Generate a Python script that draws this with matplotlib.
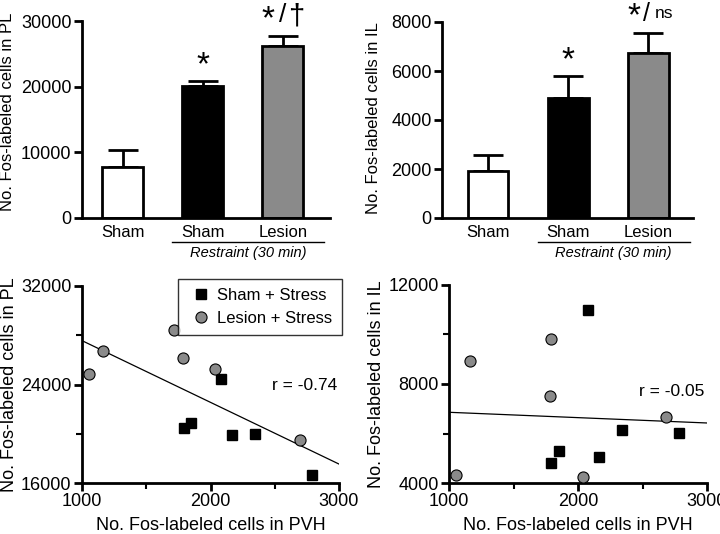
import numpy as np
import matplotlib
matplotlib.use("Agg")
import matplotlib.pyplot as plt
from matplotlib.ticker import MultipleLocator

plt.rcParams['font.family'] = ['Liberation Sans', 'DejaVu Sans']

groups = ["Sham", "Sham", "Lesion"]
bar_colors = ["white", "black", "#8a8a8a"]

pl_mean = [7700, 20100, 26150]
pl_sem = [2650, 760, 1550]
il_mean = [1920, 4900, 6750]
il_sem = [650, 900, 800]

# scatter data (PVH vs PL / IL)
sham_pvh = [2082, 1794, 1848, 2167, 2346, 2790]
sham_pl = [24450, 20470, 20870, 19900, 19980, 16650]
lesion_pvh = [1716, 1163, 1054, 1786, 2035, 2696]
lesion_pl = [28430, 26720, 24850, 26150, 25260, 19490]

sham_pvh_il = [2078, 1791, 1853, 2163, 2341, 2783]
sham_il = [10990, 4810, 5290, 5050, 6140, 6020]
lesion_pvh_il = [1163, 1054, 1791, 1783, 2039, 2682]
lesion_il = [8930, 4320, 9820, 7515, 4240, 6670]

W, H = 720, 534
fig = plt.figure(figsize=(W / 100, H / 100), dpi=100)


def px_axes(x0, x1, ytop, ybot):
    return fig.add_axes([x0 / W, (H - ybot) / H, (x1 - x0) / W, (ybot - ytop) / H])


def bar_panel(ax, means, sems, ymax, step, ylabel, xlim, note, lab_xy):
    x = np.arange(len(means))
    ax.bar(x, means, width=0.51, color=bar_colors, edgecolor="black", linewidth=2, zorder=2)
    ax.errorbar(x, means, yerr=[np.zeros(len(sems)), sems], fmt="none", ecolor="black",
                elinewidth=2, capsize=11, capthick=2, zorder=1)
    ax.set_xlim(*xlim)
    ax.set_ylim(0, ymax)
    ax.yaxis.set_major_locator(MultipleLocator(step))
    ax.set_xticks(x)
    ax.set_xticklabels(groups, fontsize=12)
    ax.tick_params(axis="x", length=0, pad=5)
    ax.tick_params(axis="y", labelsize=13, width=2, length=6, pad=1.5)
    for s in ["top", "right"]:
        ax.spines[s].set_visible(False)
    for s in ["left", "bottom"]:
        ax.spines[s].set_linewidth(2)
    ax.set_ylabel(ylabel, fontsize=12)
    ax.yaxis.set_label_coords(*lab_xy)
    tr = ax.get_xaxis_transform()
    ax.plot([0.62, 2.52], [-0.122, -0.122], color="black", lw=1, transform=tr, clip_on=False)
    ax.text(1.57, -0.18, "Restraint (30 min)", style="italic", fontsize=10.5,
            ha="center", va="center", transform=tr)
    ax.text(1, means[1] + sems[1] + ymax * 0.075, "*", fontsize=24, ha="center", va="center")
    top = means[2] + sems[2] + ymax * 0.085
    ax.text(1.82, top, "*", fontsize=24, ha="center", va="center", clip_on=False)
    if note == "dagger":
        ax.text(2.0, top + ymax * 0.02, "/", fontsize=19, ha="center", va="center", clip_on=False)
        ax.text(2.17, top + ymax * 0.015, "\u2020", fontsize=21, ha="center", va="center", clip_on=False)
    else:
        ax.text(1.98, top + ymax * 0.01, "/", fontsize=18, ha="center", va="center", clip_on=False)
        ax.text(2.2, top + ymax * 0.015, "ns", fontsize=12.5, ha="center", va="center", clip_on=False)


ax1 = px_axes(82, 330, 21, 218)
bar_panel(ax1, pl_mean, pl_sem, 30000, 10000, "No. Fos-labeled cells in PL",
          (-0.51, 2.59), "dagger", (-0.27, 0.54))

ax2 = px_axes(442, 693, 22, 218)
bar_panel(ax2, il_mean, il_sem, 8000, 2000, "No. Fos-labeled cells in IL",
          (-0.575, 2.56), "ns", (-0.245, 0.51))


def scatter_panel(ax, sx, sy, lx, ly, ylim, ylabel, rtext, rpos, legend):
    ax.plot(sx, sy, "s", color="black", ms=7, label="Sham + Stress", zorder=3)
    ax.plot(lx, ly, "o", color="#8a8a8a", mec="black", mew=0.8, ms=8,
            label="Lesion + Stress", zorder=3)
    allx = np.array(sx + lx)
    ally = np.array(sy + ly)
    k, b = np.polyfit(allx, ally, 1)
    xx = np.array([1000, 3000])
    ax.plot(xx, k * xx + b, color="black", lw=0.9, zorder=2)
    ax.set_xlim(1000, 3000)
    ax.set_ylim(*ylim)
    ax.xaxis.set_major_locator(MultipleLocator(1000))
    ax.xaxis.set_minor_locator(MultipleLocator(500))
    ax.yaxis.set_major_locator(MultipleLocator((ylim[1] - ylim[0]) / 2))
    ax.yaxis.set_minor_locator(MultipleLocator((ylim[1] - ylim[0]) / 4))
    ax.tick_params(which="major", labelsize=13, width=2, length=6, pad=1.5)
    ax.tick_params(which="minor", width=1.5, length=4)
    for s in ["top", "right"]:
        ax.spines[s].set_visible(False)
    for s in ["left", "bottom"]:
        ax.spines[s].set_linewidth(2)
    ax.set_ylabel(ylabel, fontsize=13, labelpad=2)
    ax.set_xlabel("No. Fos-labeled cells in PVH", fontsize=13, labelpad=5)
    ax.text(rpos[0], rpos[1], rtext, fontsize=12.5, ha="right", va="center")
    if legend:
        leg = ax.legend(loc="upper right", bbox_to_anchor=(1.01, 1.035), fontsize=12,
                        frameon=True, fancybox=False, edgecolor="black",
                        handletextpad=0.2, borderpad=0.55, labelspacing=0.45,
                        borderaxespad=0, handlelength=1.6)
        leg.get_frame().set_linewidth(1)


ax3 = px_axes(82, 339, 286, 483)
scatter_panel(ax3, sham_pvh, sham_pl, lesion_pvh, lesion_pl, (16000, 32000),
              "No. Fos-labeled cells in PL", "r = -0.74", (2990, 23900), True)

ax4 = px_axes(449, 707, 285, 483)
scatter_panel(ax4, sham_pvh_il, sham_il, lesion_pvh_il, lesion_il, (4000, 12000),
              "No. Fos-labeled cells in IL", "r = -0.05", (2980, 7700), False)

fig.savefig("out.png", dpi=100)
